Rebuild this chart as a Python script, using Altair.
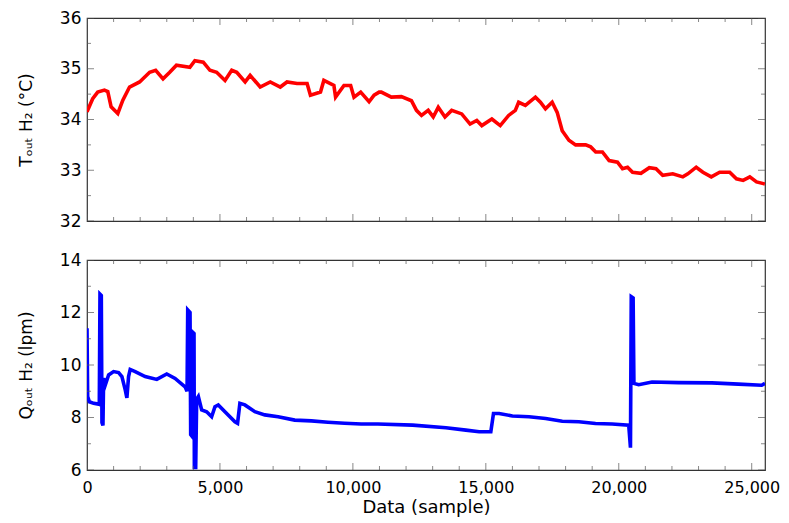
import altair as alt
import pandas as pd

# ---- data ----
t_sample = [0, 214, 403, 655, 781, 907, 1159, 1348, 1600, 1978, 2356, 2583, 2860, 3112, 3364,
            3868, 4057, 4372, 4624, 4876, 5191, 5443, 5632, 5947, 6136, 6514, 6892, 7270, 7522,
            7900, 8278, 8404, 8782, 8908, 9286, 9349, 9664, 9916, 10042, 10294, 10609, 10798,
            10987, 11069, 11447, 11825, 12203, 12392, 12581, 12833, 13022, 13211, 13463, 13715,
            14093, 14408, 14660, 14849, 15227, 15542, 15857, 16109, 16235, 16487, 16865, 17054,
            17243, 17495, 17684, 17873, 18125, 18377, 18755, 18944, 19133, 19385, 19637, 19952,
            20141, 20330, 20519, 20834, 21149, 21401, 21653, 22031, 22409, 22598, 22913, 23165,
            23480, 23795, 24173, 24425, 24677, 24929, 25181, 25496]
t_value = [34.15, 34.41, 34.54, 34.58, 34.55, 34.25, 34.12, 34.38, 34.64, 34.74, 34.93, 34.97,
           34.80, 34.93, 35.07, 35.03, 35.16, 35.13, 34.97, 34.93, 34.77, 34.97, 34.93, 34.74,
           34.87, 34.64, 34.74, 34.64, 34.74, 34.71, 34.71, 34.48, 34.54, 34.77, 34.67, 34.44,
           34.67, 34.67, 34.44, 34.54, 34.35, 34.48, 34.54, 34.54, 34.44, 34.45, 34.37, 34.18,
           34.08, 34.18, 34.05, 34.24, 34.05, 34.18, 34.11, 33.91, 33.98, 33.88, 34.01, 33.88,
           34.08, 34.18, 34.34, 34.28, 34.44, 34.34, 34.21, 34.34, 34.14, 33.78, 33.59, 33.50,
           33.50, 33.46, 33.36, 33.36, 33.19, 33.16, 33.03, 33.06, 32.96, 32.94, 33.05, 33.03,
           32.90, 32.93, 32.87, 32.93, 33.06, 32.96, 32.87, 32.96, 32.96, 32.83, 32.80, 32.87,
           32.77, 32.73]

q_sample = [0, 25, 88, 250, 438, 463, 488, 538, 563, 600, 625, 688, 813, 1000, 1188, 1313, 1438,
            1500, 1563, 1625, 1813, 2188, 2625, 3000, 3313, 3688, 3763, 3788, 3875, 3900, 3938,
            3975, 4025, 4038, 4088, 4125, 4188, 4313, 4500, 4688, 4813, 4938, 5188, 5563, 5663,
            5750, 5938, 6313, 6688, 7188, 7813, 8438, 9063, 9688, 10313, 10938, 12250, 13500,
            14250, 14750, 15188, 15288, 15500, 16000, 16625, 17250, 17875, 18500, 19125, 19750,
            20375, 20440, 20470, 20540, 20570, 20750, 21250, 22250, 23500, 24500, 25375, 25500]
q_value = [11.4, 8.8, 8.6, 8.54, 8.51, 8.5, 12.7, 12.65, 7.8, 7.7, 9.5, 9.24, 9.62, 9.75, 9.71,
           9.56, 9.05, 8.75, 9.56, 9.83, 9.75, 9.56, 9.45, 9.66, 9.49, 9.17, 9.0, 12.1, 12.0,
           7.35, 7.3, 11.25, 11.2, 6.1, 6.1, 8.7, 8.8, 8.29, 8.22, 8.03, 8.41, 8.48, 8.22, 7.84,
           7.78, 8.54, 8.48, 8.22, 8.10, 8.03, 7.9, 7.87, 7.82, 7.78, 7.75, 7.75, 7.71, 7.61,
           7.52, 7.46, 7.46, 8.15, 8.15, 8.06, 8.03, 7.96, 7.86, 7.84, 7.77, 7.75, 7.71, 6.85,
           12.6, 12.55, 9.3, 9.25, 9.35, 9.33, 9.32, 9.27, 9.23, 9.3]

x_tick_values = list(range(0, 26000, 1000))
x_label_values = [0, 5000, 10000, 15000, 20000, 25000]
t_tick_values = [32, 32.5, 33, 33.5, 34, 34.5, 35, 35.5, 36]
t_label_values = [32, 33, 34, 35, 36]
q_tick_values = [6, 7, 8, 9, 10, 11, 12, 13, 14]
q_label_values = [6, 8, 10, 12, 14]

t_title = "Tₒᵤₜ H₂ (°C)"
q_title = "Qₒᵤₜ H₂ (lpm)"

W = 678
H1 = 203
H2 = 210
XDOM = [0, 25500]
FONT = "DejaVu Sans"
TICK_COLOR = "#555555"


def panel(xs_, ys_, color, ydom, ytick_vals, ylabel_vals, major_step, ytitle, height, show_x):
    xs = alt.Scale(domain=XDOM, nice=False, zero=False)
    ys = alt.Scale(domain=ydom, nice=False, zero=False)
    df = pd.DataFrame({"sample": xs_, "value": ys_})

    if show_x:
        xaxis = alt.Axis(values=x_label_values, format=",d", ticks=False, domain=False, grid=False,
                         labelFlush=False, labelPadding=9, labelFontSize=16, labelFont=FONT,
                         labelColor="black", title="Data (sample)", titleFont=FONT,
                         titleFontSize=18, titleFontWeight="normal", titleColor="black",
                         titlePadding=3)
    else:
        xaxis = None
    yaxis = alt.Axis(values=ylabel_vals, ticks=False, domain=False, grid=False,
                     labelPadding=6, labelFontSize=17, labelFont=FONT, labelColor="black",
                     title=ytitle, titleFont=FONT, titleFontSize=17, titleFontWeight="normal",
                     titleColor="black", titlePadding=24)

    line = alt.Chart(df).mark_line(color=color, strokeWidth=3.6, clip=True).encode(
        x=alt.X("sample:Q", scale=xs, axis=xaxis),
        y=alt.Y("value:Q", scale=ys, axis=yaxis),
    )

    xt = alt.Chart(pd.DataFrame({"v": x_tick_values})).transform_calculate(
        len="datum.v % 5000 == 0 ? 14 : 8")
    yt = alt.Chart(pd.DataFrame({"v": ytick_vals})).transform_calculate(
        len="abs(datum.v / %s - round(datum.v / %s)) < 1e-6 ? 14 : 8" % (major_step, major_step))

    tick_style = dict(clip=True, thickness=1, color=TICK_COLOR)
    xt_top = xt.mark_tick(**tick_style).encode(
        x=alt.X("v:Q", scale=xs, axis=xaxis), y=alt.value(0),
        size=alt.Size("len:Q", scale=None, legend=None))
    xt_bot = xt.mark_tick(**tick_style).encode(
        x=alt.X("v:Q", scale=xs, axis=xaxis), y=alt.value(height),
        size=alt.Size("len:Q", scale=None, legend=None))
    yt_left = yt.mark_tick(**tick_style).encode(
        y=alt.Y("v:Q", scale=ys, axis=yaxis), x=alt.value(0),
        size=alt.Size("len:Q", scale=None, legend=None))
    yt_right = yt.mark_tick(**tick_style).encode(
        y=alt.Y("v:Q", scale=ys, axis=yaxis), x=alt.value(W),
        size=alt.Size("len:Q", scale=None, legend=None))

    return alt.layer(line, xt_top, xt_bot, yt_left, yt_right).properties(width=W, height=height)


top = panel(t_sample, t_value, "#ff0000", [32, 36], t_tick_values, t_label_values, 1,
            t_title, H1, False)
bottom = panel(q_sample, q_value, "#0000ff", [6, 14], q_tick_values, q_label_values, 2,
               q_title, H2, True)

chart = alt.vconcat(top, bottom, spacing=39, bounds="flush").properties(
    padding={"left": 8, "top": 0, "right": 0, "bottom": 0}
).configure_view(stroke="#333333", strokeWidth=1.2)

chart.save("out.html", embed_options={"renderer": "svg", "actions": False})
